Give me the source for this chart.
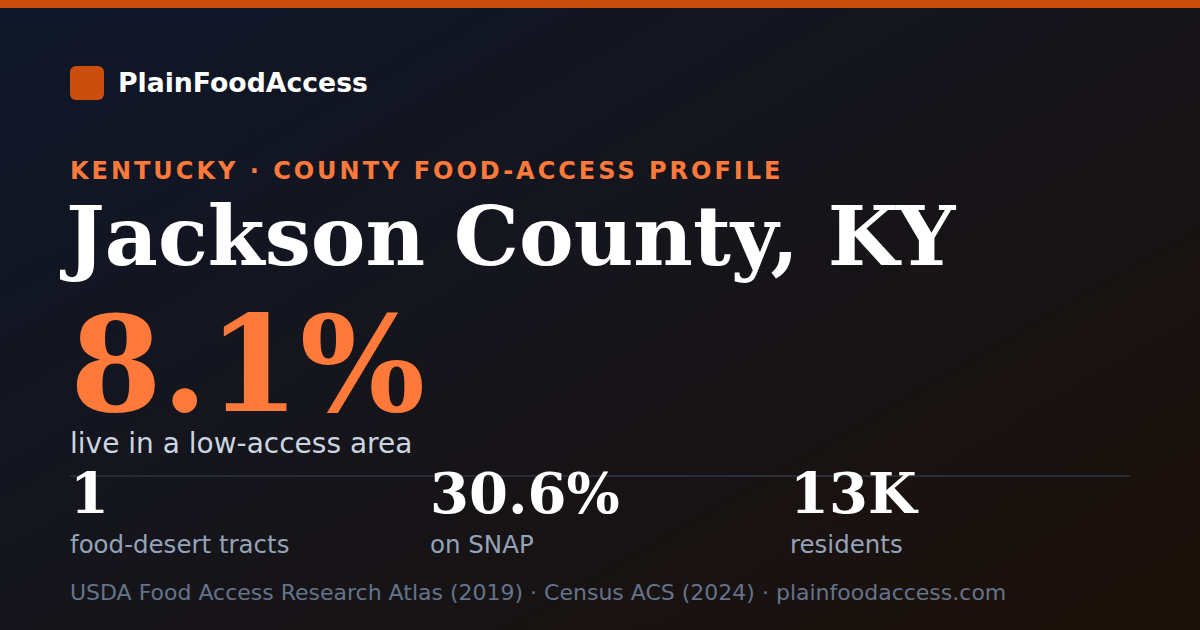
<!DOCTYPE html>
<html>
<head>
<meta charset="utf-8">
<script src="https://cdn.jsdelivr.net/npm/chart.js@4"></script>
<style>
  html, body { margin: 0; padding: 0; }
  body { width: 1200px; height: 630px; overflow: hidden; }
  #card {
    position: relative; width: 1200px; height: 630px; overflow: hidden;
    background: linear-gradient(150deg, #0f172a 0%, #15151c 45%, #1c1008 100%);
    font-family: "DejaVu Sans", sans-serif;
  }
  .abs { position: absolute; line-height: 1; white-space: nowrap; }
  #topbar { position: absolute; left: 0; top: 0; width: 1200px; height: 8px; background: #cc4e0e; }
  #logo { position: absolute; left: 70px; top: 66px; width: 34px; height: 34px; border-radius: 6px; background: #cc4e0e; }
  #brand { left: 118px; top: 69.5px; font-size: 26.7px; font-weight: bold; color: #ffffff; }
  #kicker { left: 70px; top: 159px; font-size: 24px; font-weight: bold; color: #ff7a3a; letter-spacing: 2.98px; }
  #title { left: 66px; top: 195px; font-family: "DejaVu Serif", serif; font-weight: bold; font-size: 82px; color: #ffffff; }
  #big { left: 70px; top: 311.5px; line-height: 0.8; font-family: "DejaVu Serif", serif; font-weight: bold; font-size: 132px; color: #ff7a3a; }
  #bigLabel { left: 70px; top: 430px; font-size: 28px; color: #cbd5e1; }
  #rule { position: absolute; left: 70px; top: 475px; width: 1060px; height: 2px; background: #262b36; }
  .num { top: 465px; font-family: "DejaVu Serif", serif; font-weight: bold; font-size: 56px; color: #ffffff; }
  .lab { top: 533px; font-size: 24.5px; color: #94a3b8; }
  #foot { left: 70px; top: 582px; font-size: 22px; color: #64748b; }
</style>
</head>
<body>
<div id="card">
  <div id="topbar"></div>
  <div id="logo"></div>
  <div class="abs" id="brand"></div>
  <div class="abs" id="kicker"></div>
  <div class="abs" id="title"></div>
  <div class="abs" id="big"></div>
  <div class="abs" id="bigLabel"></div>
  <div id="rule"></div>
  <div id="stats"></div>
  <div class="abs" id="foot"></div>
</div>
<script>
// card text
var brandName = "PlainFoodAccess";
var kickerText = "KENTUCKY · COUNTY FOOD-ACCESS PROFILE";
var countyName = "Jackson County, KY";
var headlineValue = "8.1%";
var headlineLabel = "live in a low-access area";

// secondary stats
var statValues = ["1", "30.6%", "13K"];
var statLabels = ["food-desert tracts", "on SNAP", "residents"];
var statX = [70, 430, 790];

var sourceText = "USDA Food Access Research Atlas (2019) · Census ACS (2024) · plainfoodaccess.com";

document.getElementById("brand").textContent = brandName;
document.getElementById("kicker").textContent = kickerText;
document.getElementById("title").textContent = countyName;
document.getElementById("big").textContent = headlineValue;
document.getElementById("bigLabel").textContent = headlineLabel;
document.getElementById("foot").textContent = sourceText;

var stats = document.getElementById("stats");
for (var i = 0; i < statValues.length; i++) {
  var n = document.createElement("div");
  n.className = "abs num";
  n.style.left = statX[i] + "px";
  n.textContent = statValues[i];
  stats.appendChild(n);
  var l = document.createElement("div");
  l.className = "abs lab";
  l.style.left = statX[i] + "px";
  l.textContent = statLabels[i];
  stats.appendChild(l);
}
</script>
</body>
</html>
